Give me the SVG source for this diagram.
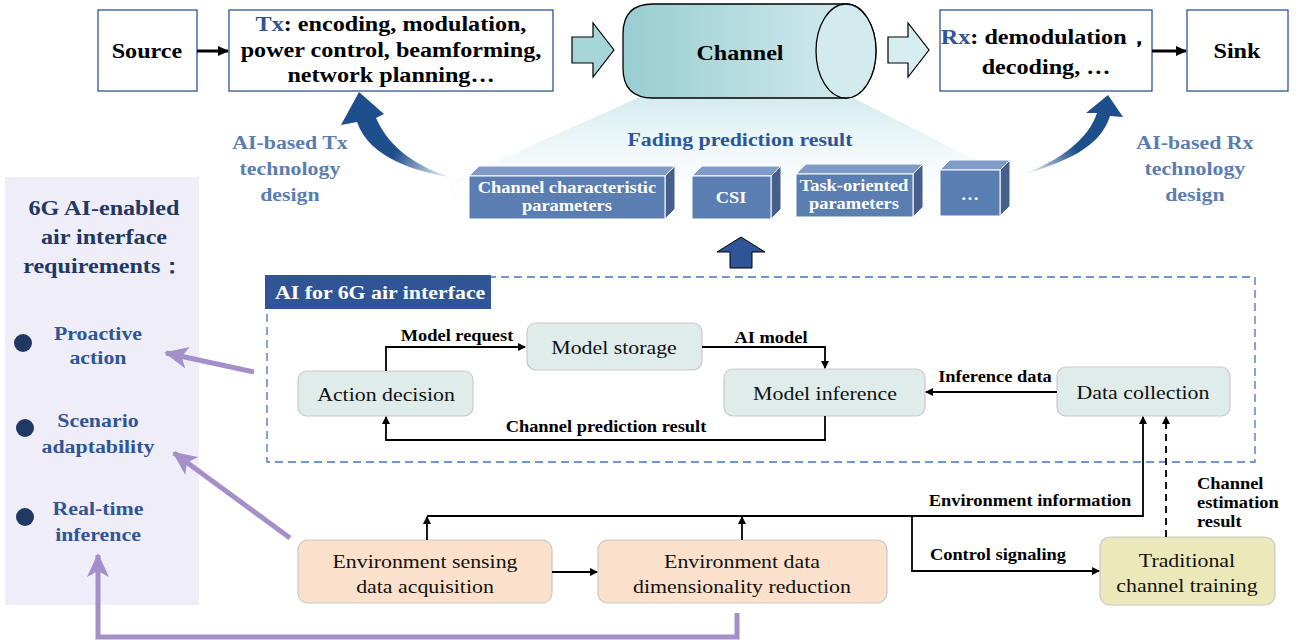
<svg xmlns="http://www.w3.org/2000/svg" width="1298" height="643" viewBox="0 0 1298 643" font-family="'Liberation Serif', Tinos, 'DejaVu Serif', serif">
<defs>
<linearGradient id="cyl" x1="0" y1="0" x2="1" y2="0">
<stop offset="0" stop-color="#98cdd1"/><stop offset="1" stop-color="#d9edf1"/>
</linearGradient>
<linearGradient id="fade" x1="0" y1="0" x2="0" y2="1">
<stop offset="0" stop-color="#d3ebef"/><stop offset="1" stop-color="#ffffff" stop-opacity="0"/>
</linearGradient>
<linearGradient id="cl" gradientUnits="userSpaceOnUse" x1="453" y1="178" x2="365" y2="110">
<stop offset="0" stop-color="#1f4e8c" stop-opacity="0"/><stop offset="0.55" stop-color="#1f4e8c"/><stop offset="1" stop-color="#1f4e8c"/>
</linearGradient>
<linearGradient id="cr" gradientUnits="userSpaceOnUse" x1="1022" y1="175" x2="1105" y2="110">
<stop offset="0" stop-color="#1f4e8c" stop-opacity="0"/><stop offset="0.55" stop-color="#1f4e8c"/><stop offset="1" stop-color="#1f4e8c"/>
</linearGradient>
<marker id="ah" markerWidth="8" markerHeight="8" refX="7" refY="4" orient="auto" markerUnits="userSpaceOnUse">
<path d="M0,0 L8,4 L0,8 Z" fill="#000"/>
</marker>
<marker id="ahb" markerWidth="12" markerHeight="12" refX="10" refY="6" orient="auto" markerUnits="userSpaceOnUse">
<path d="M0,1 L11,6 L0,11 Z" fill="#000"/>
</marker>
<marker id="ahp" markerWidth="26" markerHeight="22" refX="22" refY="11" orient="auto" markerUnits="userSpaceOnUse">
<path d="M0,0 L24,11 L0,22 L6,11 Z" fill="#a48fc8"/>
</marker>
</defs>
<style>
text{font-family:"Liberation Serif",Tinos,"DejaVu Serif",serif;transform-box:fill-box;transform-origin:center;transform:scaleX(1.15);}
text.l{transform-origin:left center;}
.b{font-weight:bold;}
.box{fill:#fff;stroke:#2f5597;stroke-width:1.3;}
.top{font-size:21px;font-weight:bold;fill:#000;}
.blu{fill:#2f5597;}
.lbl{font-size:16px;font-weight:bold;fill:#000;}
.node{fill:#dfecea;stroke:#c9c9c9;stroke-width:1.2;}
.orng{fill:#fbe1cb;stroke:#c9c9c9;stroke-width:1.2;}
.ylw{fill:#ebe8b9;stroke:#c9c9c9;stroke-width:1.2;}
.nt{font-size:19px;fill:#111;}
.ln{fill:none;stroke:#000;stroke-width:1.8;}
.pl{fill:none;stroke:#a48fc8;stroke-width:5;}
.fr{fill:#5a7db2;stroke:#fff;stroke-width:1;}
.tp{fill:#7f9cc9;stroke:#fff;stroke-width:1;}
.sd{fill:#465f8c;stroke:#fff;stroke-width:1;}
.bt{font-size:16px;font-weight:bold;fill:#fff;}
.req{font-size:19px;font-weight:bold;fill:#2f5597;}
.des{font-size:19px;font-weight:bold;fill:#5a7db2;}
</style>

<!-- fading area -->
<polygon points="640,97 852,97 1010,178 1010,225 450,225 450,182" fill="url(#fade)"/>

<!-- left requirements panel -->
<g id="requirements">
<rect x="5" y="177" width="194" height="428" fill="#efeef8"/>
<text x="104" y="215" text-anchor="middle" font-size="21" class="b" fill="#1f3864">6G AI-enabled</text>
<text x="104" y="244" text-anchor="middle" font-size="21" class="b" fill="#1f3864">air interface</text>
<text x="104" y="273" text-anchor="middle" font-size="21" class="b" fill="#1f3864">requirements：</text>
<circle cx="23" cy="343" r="9" fill="#1f3864"/>
<circle cx="25" cy="428" r="9" fill="#1f3864"/>
<circle cx="25" cy="517" r="9" fill="#1f3864"/>
<text x="98" y="340" text-anchor="middle" class="req">Proactive</text>
<text x="98" y="364" text-anchor="middle" class="req">action</text>
<text x="98" y="427" text-anchor="middle" class="req">Scenario</text>
<text x="98" y="453" text-anchor="middle" class="req">adaptability</text>
<text x="98" y="515" text-anchor="middle" class="req">Real-time</text>
<text x="98" y="541" text-anchor="middle" class="req">inference</text>
</g>

<!-- top chain -->
<g id="source"><rect class="box" x="98" y="10" width="99" height="81"/><text x="147" y="58" text-anchor="middle" class="top">Source</text></g>
<g id="tx"><rect class="box" x="229" y="10" width="324" height="81"/>
<text x="391" y="31" text-anchor="middle" class="top"><tspan class="blu">Tx</tspan>: encoding, modulation,</text>
<text x="391" y="57" text-anchor="middle" class="top">power control, beamforming,</text>
<text x="391" y="82" text-anchor="middle" class="top">network planning…</text></g>
<g id="channel">
<path d="M653,4 H846 A30,47 0 0 1 846,98 H653 Q623,98 623,68 V34 Q623,4 653,4 Z" fill="url(#cyl)" stroke="#000" stroke-width="1.3"/>
<ellipse cx="846" cy="51" rx="30" ry="47" fill="#d3eaee" stroke="#000" stroke-width="1.3"/>
<text x="740" y="60" text-anchor="middle" class="top">Channel</text></g>
<g id="rx"><rect class="box" x="940" y="10" width="212" height="81"/>
<text x="1046" y="44" text-anchor="middle" class="top"><tspan class="blu">Rx</tspan>: demodulation，</text>
<text x="1046" y="74" text-anchor="middle" class="top">decoding, …</text></g>
<g id="sink"><rect class="box" x="1187" y="10" width="101" height="81"/><text x="1237" y="58" text-anchor="middle" class="top">Sink</text></g>

<!-- 3D boxes -->
<g id="ccp">
<polygon class="tp" points="469,176 479,166 675,166 665,176"/>
<polygon class="sd" points="665,176 675,166 675,209 665,219"/>
<rect class="fr" x="469" y="176" width="196" height="43"/>
<text x="567" y="193" text-anchor="middle" class="bt">Channel  characteristic</text>
<text x="567" y="211" text-anchor="middle" class="bt">parameters</text></g>
<g id="csi">
<polygon class="tp" points="692,176 702,166 781,166 771,176"/>
<polygon class="sd" points="771,176 781,166 781,209 771,219"/>
<rect class="fr" x="692" y="176" width="79" height="43"/>
<text x="731" y="203" text-anchor="middle" class="bt">CSI</text></g>
<g id="top">
<polygon class="tp" points="796,174 806,164 923,164 913,174"/>
<polygon class="sd" points="913,174 923,164 923,207 913,217"/>
<rect class="fr" x="796" y="174" width="117" height="43"/>
<text x="854" y="191" text-anchor="middle" class="bt">Task-oriented</text>
<text x="854" y="209" text-anchor="middle" class="bt">parameters</text></g>
<g id="more">
<polygon class="tp" points="940,170 950,160 1010,160 1000,170"/>
<polygon class="sd" points="1000,170 1010,160 1010,206 1000,216"/>
<rect class="fr" x="940" y="170" width="60" height="46"/>
<text x="970" y="200" text-anchor="middle" class="bt">…</text></g>

<text x="740" y="146" text-anchor="middle" font-size="19" class="b" fill="#2f5597">Fading prediction result</text>

<!-- AI-based design labels -->
<g id="txdesign">
<path d="M453,178 C420,172 370,160 357,122 L341,125 L359,92 L384,114 L376,118 C390,150 420,168 453,178 Z" fill="url(#cl)"/>
<text x="290" y="149" text-anchor="middle" class="des">AI-based Tx</text>
<text x="290" y="175" text-anchor="middle" class="des">technology</text>
<text x="290" y="201" text-anchor="middle" class="des">design</text></g>
<g id="rxdesign">
<path d="M1022,175 C1065,162 1100,148 1110,116 L1123,117 L1108,95 L1086,113 L1097,113 C1088,140 1060,160 1022,175 Z" fill="url(#cr)"/>
<text x="1195" y="149" text-anchor="middle" class="des">AI-based Rx</text>
<text x="1195" y="175" text-anchor="middle" class="des">technology</text>
<text x="1195" y="201" text-anchor="middle" class="des">design</text></g>

<!-- AI for 6G air interface -->
<g id="aibox">
<rect x="267" y="277" width="988" height="185" fill="none" stroke="#4472c4" stroke-width="1.3" stroke-dasharray="8,5"/>
<rect x="265" y="275" width="226" height="34" fill="#2f5597"/>
<text x="275" y="299" font-size="19" class="b l" fill="#fff">AI for 6G air interface</text>
</g>
<g id="action"><rect class="node" x="298" y="371" width="175" height="45" rx="9"/><text x="386" y="401" text-anchor="middle" class="nt">Action decision</text></g>
<g id="storage"><rect class="node" x="527" y="323" width="175" height="47" rx="9"/><text x="614" y="354" text-anchor="middle" class="nt">Model storage</text></g>
<g id="inference"><rect class="node" x="724" y="369" width="201" height="47" rx="9"/><text x="825" y="400" text-anchor="middle" class="nt">Model inference</text></g>
<g id="collection"><rect class="node" x="1057" y="367" width="173" height="49" rx="9"/><text x="1143" y="399" text-anchor="middle" class="nt">Data collection</text></g>

<g id="sensing"><rect class="orng" x="298" y="540" width="254" height="63" rx="10"/>
<text x="425" y="568" text-anchor="middle" class="nt">Environment sensing</text>
<text x="425" y="593" text-anchor="middle" class="nt">data acquisition</text></g>
<g id="reduction"><rect class="orng" x="598" y="540" width="289" height="63" rx="10"/>
<text x="742" y="568" text-anchor="middle" class="nt">Environment data</text>
<text x="742" y="593" text-anchor="middle" class="nt">dimensionality reduction</text></g>
<g id="traditional"><rect class="ylw" x="1100" y="537" width="175" height="68" rx="10"/>
<text x="1187" y="567" text-anchor="middle" class="nt">Traditional</text>
<text x="1187" y="592" text-anchor="middle" class="nt">channel training</text></g>

<!-- connectors -->
<g id="connectors">
<line x1="197" y1="51" x2="228" y2="51" stroke="#000" stroke-width="3" marker-end="url(#ahb)"/>
<line x1="1152" y1="51" x2="1186" y2="51" stroke="#000" stroke-width="3" marker-end="url(#ahb)"/>
<path d="M572,37 H593 V23 L614,50 L593,77 V63 H572 Z" fill="#a5d5d9" stroke="#000" stroke-width="1.2"/>
<path d="M888,37 H908 V23 L929,50 L908,77 V63 H888 Z" fill="#d6eef1" stroke="#000" stroke-width="1.2"/>
<path d="M741,237 L765,252 H752 V268 H730 V252 H717 Z" fill="#2f5597" stroke="#000" stroke-width="1"/>

<path class="ln" d="M386,371 V347 H525" marker-end="url(#ah)"/>
<text x="457" y="341" text-anchor="middle" class="lbl">Model request</text>
<path class="ln" d="M702,347 H825 V368" marker-end="url(#ah)"/>
<text x="771" y="343" text-anchor="middle" class="lbl">AI model</text>
<path class="ln" d="M825,416 V440 H386 V417" marker-end="url(#ah)"/>
<text x="606" y="432" text-anchor="middle" class="lbl">Channel prediction result</text>
<path class="ln" d="M1057,392 H926" marker-end="url(#ah)"/>
<text x="995" y="382" text-anchor="middle" class="lbl">Inference data</text>

<path class="ln" d="M427,516 H1143 V417" marker-end="url(#ah)"/>
<path class="ln" d="M427,540 V517" marker-end="url(#ah)"/>
<path class="ln" d="M742,540 V517" marker-end="url(#ah)"/>
<text x="1030" y="506" text-anchor="middle" class="lbl">Environment information</text>
<path class="ln" d="M912,516 V571 H1099" marker-end="url(#ah)"/>
<text x="998" y="560" text-anchor="middle" class="lbl">Control signaling</text>
<path class="ln" d="M552,572 H597" marker-end="url(#ah)"/>
<path class="ln" d="M1166,537 V417" stroke-dasharray="7,5" marker-end="url(#ah)"/>
<text x="1197" y="489" class="lbl l">Channel</text>
<text x="1197" y="508" class="lbl l">estimation</text>
<text x="1197" y="527" class="lbl l">result</text>

<path class="pl" d="M254,372 L166,353" marker-end="url(#ahp)"/>
<path class="pl" d="M290,538 L174,453" marker-end="url(#ahp)"/>
<path class="pl" d="M737,613 V637 H98 V555" marker-end="url(#ahp)"/>
</g>
</svg>
